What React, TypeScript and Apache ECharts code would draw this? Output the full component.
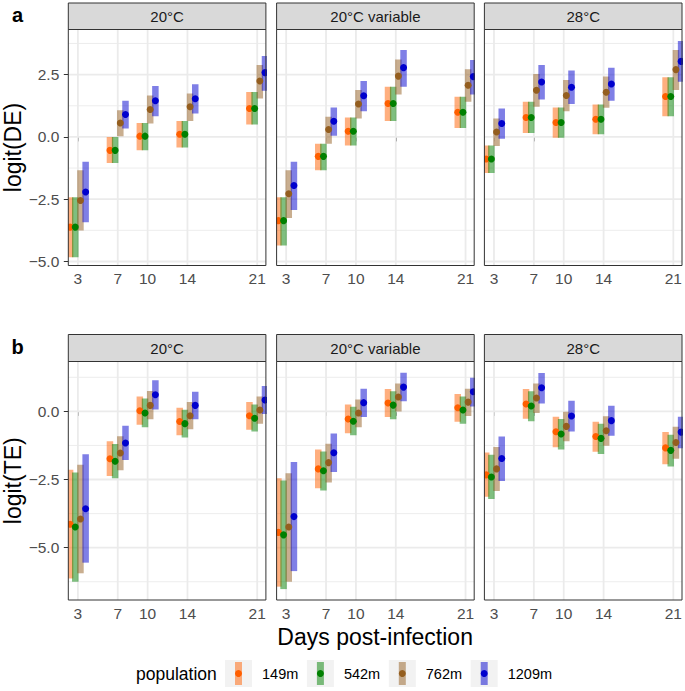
import React, { useEffect, useRef } from "react";
import * as echarts from "echarts";

// ---------- data ----------
const days = [3, 7, 10, 14, 21];
const populations = ["149m", "542m", "762m", "1209m"];
const temperatures = ["20°C", "20°C variable", "28°C"];
const rowLetters = ["a", "b"];
const rowTitles = ["logit(DE)", "logit(TE)"];
const xTitle = "Days post-infection";
const legendTitle = "population";
const deTicks = [-5, -2.5, 0, 2.5];
const deMinorTicks = [-3.75, -1.25, 1.25, 3.75];
const teTicks = [-5, -2.5, 0];
const teMinorTicks = [-6.25, -3.75, -1.25, 1.25];

// rows: populations (149m, 542m, 762m, 1209m); columns: days
const deMean20 = [
  [-3.62, -0.54, 0.03, 0.11, 1.14],
  [-3.62, -0.54, 0.03, 0.11, 1.14],
  [-2.55, 0.56, 1.1, 1.21, 2.24],
  [-2.21, 0.9, 1.45, 1.53, 2.58],
];
const deLow20 = [
  [-4.83, -1.05, -0.54, -0.43, 0.5],
  [-4.83, -1.05, -0.54, -0.43, 0.5],
  [-3.76, 0.03, 0.54, 0.64, 1.54],
  [-3.42, 0.34, 0.83, 0.94, 1.85],
];
const deHigh20 = [
  [-2.42, 0.0, 0.56, 0.64, 1.8],
  [-2.42, 0.0, 0.56, 0.64, 1.8],
  [-1.34, 1.07, 1.66, 1.74, 2.89],
  [-1.0, 1.45, 2.04, 2.11, 3.25],
];

const deMean20v = [
  [-3.36, -0.78, 0.23, 1.34, 0.99],
  [-3.36, -0.78, 0.23, 1.34, 0.99],
  [-2.28, 0.3, 1.32, 2.44, 2.07],
  [-1.95, 0.63, 1.65, 2.78, 2.42],
];
const deLow20v = [
  [-4.36, -1.34, -0.34, 0.64, 0.36],
  [-4.36, -1.34, -0.34, 0.64, 0.36],
  [-3.25, -0.27, 0.74, 1.7, 1.41],
  [-2.93, 0.05, 1.03, 2.01, 1.7],
];
const deHigh20v = [
  [-2.42, -0.27, 0.78, 2.01, 1.61],
  [-2.42, -0.27, 0.78, 2.01, 1.61],
  [-1.34, 0.81, 1.88, 3.11, 2.71],
  [-1.0, 1.18, 2.24, 3.49, 3.09],
];

const deMean28 = [
  [-0.89, 0.78, 0.58, 0.71, 1.62],
  [-0.89, 0.78, 0.58, 0.71, 1.62],
  [0.2, 1.87, 1.66, 1.79, 2.7],
  [0.54, 2.2, 1.99, 2.12, 3.03],
];
const deLow28 = [
  [-1.45, 0.16, -0.03, 0.11, 0.83],
  [-1.45, 0.16, -0.03, 0.11, 0.83],
  [-0.36, 1.21, 1.03, 1.17, 1.88],
  [-0.07, 1.5, 1.32, 1.45, 2.21],
];
const deHigh28 = [
  [-0.34, 1.41, 1.18, 1.3, 2.39],
  [-0.34, 1.41, 1.18, 1.3, 2.39],
  [0.74, 2.52, 2.28, 2.42, 3.49],
  [1.14, 2.89, 2.66, 2.78, 3.85],
];

const teMean20 = [
  [-4.14, -1.74, 0.02, -0.37, -0.16],
  [-4.24, -1.83, -0.06, -0.45, -0.25],
  [-3.95, -1.53, 0.22, -0.16, 0.05],
  [-3.57, -1.16, 0.61, 0.22, 0.42],
];
const teLow20 = [
  [-6.13, -2.37, -0.49, -0.88, -0.67],
  [-6.25, -2.45, -0.58, -0.96, -0.74],
  [-5.94, -2.16, -0.29, -0.66, -0.45],
  [-5.55, -1.78, 0.07, -0.29, -0.1],
];
const teHigh20 = [
  [-2.14, -1.1, 0.55, 0.13, 0.34],
  [-2.24, -1.2, 0.47, 0.06, 0.25],
  [-1.96, -0.91, 0.75, 0.34, 0.55],
  [-1.57, -0.53, 1.14, 0.72, 0.93],
];

const teMean20v = [
  [-4.44, -2.11, -0.28, 0.31, 0.13],
  [-4.53, -2.18, -0.36, 0.23, 0.05],
  [-4.24, -1.88, -0.06, 0.53, 0.34],
  [-3.86, -1.52, 0.32, 0.89, 0.72],
];
const teLow20v = [
  [-6.43, -2.82, -0.8, -0.21, -0.38],
  [-6.52, -2.9, -0.88, -0.29, -0.45],
  [-6.25, -2.61, -0.58, 0.0, -0.17],
  [-5.86, -2.22, -0.21, 0.37, 0.18],
];
const teHigh20v = [
  [-2.45, -1.4, 0.25, 0.82, 0.64],
  [-2.54, -1.47, 0.17, 0.74, 0.55],
  [-2.27, -1.19, 0.44, 1.02, 0.83],
  [-1.86, -0.81, 0.83, 1.42, 1.23],
];

const teMean28 = [
  [-2.33, 0.27, -0.75, -0.92, -1.34],
  [-2.41, 0.2, -0.83, -0.99, -1.43],
  [-2.11, 0.49, -0.55, -0.71, -1.14],
  [-1.73, 0.87, -0.17, -0.34, -0.76],
];
const teLow28 = [
  [-3.13, -0.27, -1.32, -1.48, -1.94],
  [-3.21, -0.36, -1.4, -1.56, -2.02],
  [-2.92, -0.06, -1.1, -1.26, -1.74],
  [-2.55, 0.29, -0.74, -0.89, -1.35],
];
const teHigh28 = [
  [-1.51, 0.82, -0.2, -0.38, -0.76],
  [-1.59, 0.74, -0.28, -0.45, -0.86],
  [-1.31, 1.02, -0.01, -0.18, -0.56],
  [-0.92, 1.41, 0.39, 0.21, -0.2],
];

// ---------- styling / layout ----------
const FONT = "'Liberation Sans', Arial, Helvetica, sans-serif";
const COLORS = ["#FF5F00", "#008000", "#945E1F", "#0000CD"];
const DODGE = [-0.78, -0.26, 0.26, 0.78];
const COL_LEFT = [68.3, 276.6, 484.4];
const COL_WIDTH = 197.6;
const ROW_TOP = [29.5, 361.5];
const ROW_HEIGHT = [236, 238.5];
const STRIP_TOP = [3, 334.5];
const X_MIN = 2.04;
const X_MAX = 21.87;
const Y_LIMS = [
  [-5.16, 4.31],
  [-6.92, 1.83],
];
const BAR_W = 6.5;
const PT_R = 3.5;
const TICK_COLOR = "#333333";
const LABEL_COLOR = "#4D4D4D";

const facets = [
  { row: 0, col: 0, mean: deMean20, low: deLow20, high: deHigh20 },
  { row: 0, col: 1, mean: deMean20v, low: deLow20v, high: deHigh20v },
  { row: 0, col: 2, mean: deMean28, low: deLow28, high: deHigh28 },
  { row: 1, col: 0, mean: teMean20, low: teLow20, high: teHigh20 },
  { row: 1, col: 1, mean: teMean20v, low: teLow20v, high: teHigh20v },
  { row: 1, col: 2, mean: teMean28, low: teLow28, high: teHigh28 },
];

const fmtY = (v: number) => v.toFixed(1).replace("-", "\u2212");

function buildOption() {
  const grid: any[] = [];
  const xAxis: any[] = [];
  const yAxis: any[] = [];
  const series: any[] = [];
  const graphic: any[] = [];

  facets.forEach((f, i) => {
    const left = COL_LEFT[f.col];
    const top = ROW_TOP[f.row];
    const height = ROW_HEIGHT[f.row];
    const ticks = f.row === 0 ? deTicks : teTicks;
    const minor = f.row === 0 ? deMinorTicks : teMinorTicks;
    const [yMin, yMax] = Y_LIMS[f.row];

    grid.push({
      left,
      top,
      width: COL_WIDTH,
      height,
      show: false,
      containLabel: false,
      outerBoundsMode: "none",
    });
    xAxis.push({
      type: "value",
      gridIndex: i,
      min: X_MIN,
      max: X_MAX,
      axisLine: { show: false },
      splitLine: { show: false },
      axisTick: {
        show: true,
        customValues: days,
        length: 4.5,
        lineStyle: { color: TICK_COLOR, width: 1 },
      },
      axisLabel: {
        show: true,
        customValues: days,
        formatter: (v: number) => String(v),
        color: LABEL_COLOR,
        fontSize: 15.5,
        fontFamily: FONT,
        margin: 5,
      },
    });
    yAxis.push({
      type: "value",
      gridIndex: i,
      min: yMin,
      max: yMax,
      axisLine: { show: false },
      splitLine: { show: false },
      axisTick: {
        show: f.col === 0,
        customValues: ticks,
        length: 4.5,
        lineStyle: { color: TICK_COLOR, width: 1 },
      },
      axisLabel: {
        show: f.col === 0,
        customValues: ticks,
        formatter: fmtY,
        color: LABEL_COLOR,
        fontSize: 15.5,
        fontFamily: FONT,
        margin: 9,
      },
    });

    // grid lines (minor first, then major)
    const glData: number[][] = [];
    minor.forEach((v) => glData.push([X_MIN, v, 1]));
    ticks.forEach((v) => glData.push([X_MIN, v, 0]));
    days.forEach((d) => glData.push([d, yMin, 2]));
    series.push({
      type: "custom",
      xAxisIndex: i,
      yAxisIndex: i,
      z: 1,
      silent: true,
      clip: true,
      encode: { x: 0, y: 1 },
      data: glData,
      renderItem: (params: any, api: any) => {
        const cs = params.coordSys;
        const kind = api.value(2);
        const p = api.coord([api.value(0), api.value(1)]);
        const shape =
          kind === 2
            ? { x1: p[0], y1: cs.y, x2: p[0], y2: cs.y + cs.height }
            : { x1: cs.x, y1: p[1], x2: cs.x + cs.width, y2: p[1] };
        return {
          type: "line",
          shape,
          style: { stroke: "#EBEBEB", lineWidth: kind === 1 ? 0.9 : 1.8 },
        };
      },
    });

    // intervals and points
    const items: number[][] = [];
    populations.forEach((_, p) => {
      days.forEach((d, k) => {
        items.push([d + DODGE[p], f.mean[p][k], f.low[p][k], f.high[p][k], p]);
      });
    });
    series.push({
      type: "custom",
      name: "interval",
      xAxisIndex: i,
      yAxisIndex: i,
      z: 2,
      clip: true,
      encode: { x: 0, y: [1, 2, 3] },
      data: items,
      renderItem: (params: any, api: any) => {
        const x = api.value(0);
        const lo = api.coord([x, api.value(2)]);
        const hi = api.coord([x, api.value(3)]);
        const p = api.value(4);
        return {
          type: "rect",
          shape: { x: lo[0] - BAR_W / 2, y: hi[1], width: BAR_W, height: lo[1] - hi[1] },
          style: { fill: COLORS[p], opacity: 0.5 },
        };
      },
    });
    series.push({
      type: "custom",
      name: "estimate",
      xAxisIndex: i,
      yAxisIndex: i,
      z: 3,
      clip: true,
      encode: { x: 0, y: 1 },
      data: items,
      renderItem: (params: any, api: any) => {
        const c = api.coord([api.value(0), api.value(1)]);
        const p = api.value(4);
        return {
          type: "circle",
          shape: { cx: c[0], cy: c[1], r: PT_R },
          style: { fill: COLORS[p] },
        };
      },
    });

    // panel border
    graphic.push({
      type: "rect",
      z: 100,
      silent: true,
      shape: { x: left, y: top, width: COL_WIDTH, height },
      style: { fill: "none", stroke: TICK_COLOR, lineWidth: 1 },
    });
    // strip
    const sTop = STRIP_TOP[f.row];
    graphic.push({
      type: "rect",
      z: 100,
      silent: true,
      shape: { x: left, y: sTop, width: COL_WIDTH, height: top - sTop },
      style: { fill: "#D9D9D9", stroke: TICK_COLOR, lineWidth: 1 },
    });
    graphic.push({
      type: "text",
      z: 101,
      silent: true,
      x: left + COL_WIDTH / 2,
      y: sTop + (top - sTop) / 2,
      style: {
        text: temperatures[f.col],
        fill: "#1A1A1A",
        fontSize: 15,
        fontFamily: FONT,
        align: "center",
        verticalAlign: "middle",
        textAlign: "center",
        textVerticalAlign: "middle",
      },
    });
  });

  // row letters and y titles
  rowLetters.forEach((t, r) => {
    graphic.push({
      type: "text",
      z: 101,
      x: 17.5,
      y: STRIP_TOP[r] + 12,
      style: {
        text: t,
        fill: "#000",
        fontSize: 20,
        fontWeight: "bold",
        fontFamily: FONT,
        align: "center",
        verticalAlign: "middle",
        textAlign: "center",
        textVerticalAlign: "middle",
      },
    });
    graphic.push({
      type: "text",
      z: 101,
      x: 13,
      y: ROW_TOP[r] + ROW_HEIGHT[r] / 2,
      rotation: Math.PI / 2,
      style: {
        text: rowTitles[r],
        fill: "#000",
        fontSize: 23,
        fontFamily: FONT,
        align: "center",
        verticalAlign: "middle",
        textAlign: "center",
        textVerticalAlign: "middle",
      },
    });
  });

  // x title
  graphic.push({
    type: "text",
    z: 101,
    x: (COL_LEFT[0] + COL_LEFT[2] + COL_WIDTH) / 2,
    y: 637,
    style: {
      text: xTitle,
      fill: "#000",
      fontSize: 23,
      fontFamily: FONT,
      align: "center",
      verticalAlign: "middle",
      textAlign: "center",
      textVerticalAlign: "middle",
    },
  });

  // legend
  const LEG_Y = 660;
  const LEG_X0 = 225;
  const LEG_STEP = 81.9;
  const KEY = 27;
  graphic.push({
    type: "text",
    z: 101,
    x: 136,
    y: LEG_Y + KEY / 2,
    style: {
      text: legendTitle,
      fill: "#000",
      fontSize: 17.5,
      fontFamily: FONT,
      align: "left",
      verticalAlign: "middle",
      textAlign: "left",
      textVerticalAlign: "middle",
    },
  });
  populations.forEach((name, p) => {
    const kx = LEG_X0 + p * LEG_STEP;
    graphic.push({
      type: "rect",
      z: 100,
      shape: { x: kx, y: LEG_Y, width: KEY, height: KEY },
      style: { fill: "#F2F2F2" },
    });
    graphic.push({
      type: "rect",
      z: 101,
      shape: { x: kx + KEY / 2 - 3.5, y: LEG_Y + 2, width: 7, height: KEY - 4 },
      style: { fill: COLORS[p], opacity: 0.5 },
    });
    graphic.push({
      type: "circle",
      z: 102,
      shape: { cx: kx + KEY / 2, cy: LEG_Y + KEY / 2, r: PT_R },
      style: { fill: COLORS[p] },
    });
    graphic.push({
      type: "text",
      z: 101,
      x: kx + 37,
      y: LEG_Y + KEY / 2,
      style: {
        text: name,
        fill: "#000",
        fontSize: 14.5,
        fontFamily: FONT,
        align: "left",
        verticalAlign: "middle",
        textAlign: "left",
        textVerticalAlign: "middle",
      },
    });
  });

  return {
    animation: false,
    backgroundColor: "#FFFFFF",
    textStyle: { fontFamily: FONT },
    grid,
    xAxis,
    yAxis,
    series,
    graphic: { elements: graphic },
  };
}

export default function App() {
  const ref = useRef<HTMLDivElement>(null);
  useEffect(() => {
    document.body.style.margin = "0";
    if (!ref.current) return;
    const chart = echarts.init(ref.current, undefined, { renderer: "svg" });
    chart.setOption(buildOption() as any);
    return () => {
      chart.dispose();
    };
  }, []);
  return <div ref={ref} style={{ width: 685, height: 691 }} />;
}
